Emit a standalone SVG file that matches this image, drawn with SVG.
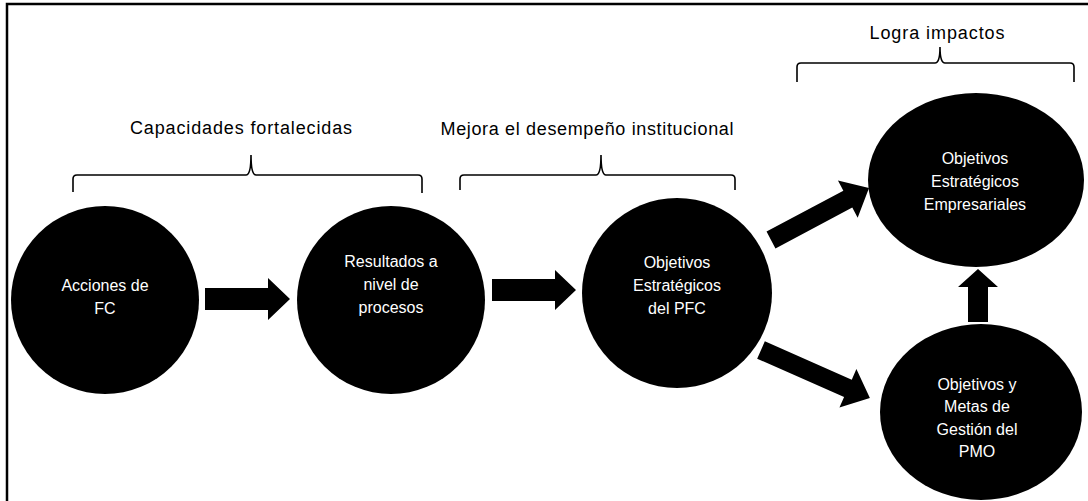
<svg xmlns="http://www.w3.org/2000/svg" width="1088" height="501" viewBox="0 0 1088 501">
<style>
.node{fill:#000;}
.nt{font-family:"Liberation Sans",Arial,sans-serif;font-size:16px;fill:#fff;text-anchor:middle;}
.ht{font-family:"Liberation Sans",Arial,sans-serif;font-size:18px;fill:#000;text-anchor:middle;}
.brace{fill:none;stroke:#000;stroke-width:1.6;}
.arrow{fill:#000;}
.frame{stroke:#000;stroke-width:2.5;fill:none;}
</style>
<rect width="1088" height="501" fill="#fff"/>
<path class="frame" d="M7,501 L7,4 L1088,4"/>

<g id="labels">
<text class="ht" x="241" y="134" textLength="222">Capacidades fortalecidas</text>
<text class="ht" x="587" y="135" textLength="293">Mejora el desempeño institucional</text>
<text class="ht" x="937" y="39" textLength="135">Logra impactos</text>
<path class="brace" d="M73,192 L73,179 Q73,175 77,175 L246,175 Q251,175 251,155 Q251,175 256,175 L418,175 Q422,175 422,179 L422,193"/>
<path class="brace" d="M460,190 L460,179 Q460,175 464,175 L596,175 Q601,175 601,155 Q601,175 606,175 L731,175 Q735,175 735,179 L735,190"/>
<path class="brace" d="M797,82 L797,67 Q797,63 801,63 L935,63 Q940,63 940,47 Q940,63 945,63 L1070,63 Q1074,63 1074,67 L1074,82"/>
</g>

<g id="connectors">
<polygon class="arrow" points="205,288 268,288 268,278 290,299 268,320 268,310 205,310"/>
<polygon class="arrow" points="492,279 555,279 555,270 576,290 555,310 555,301 492,301"/>
<polygon class="arrow" transform="translate(771,240) rotate(-28)" points="0,-9.5 87,-9.5 87,-21 111,0 87,21 87,9.5 0,9.5"/>
<polygon class="arrow" transform="translate(761,350) rotate(23.8)" points="0,-9.5 95,-9.5 95,-21 119,0 95,21 95,9.5 0,9.5"/>
<polygon class="arrow" points="968,322 968,287 958,287 978,269 998,287 988,287 988,322"/>
</g>

<g id="n1">
<circle class="node" cx="105" cy="300" r="94"/>
<text class="nt" x="105" y="291">Acciones de</text>
<text class="nt" x="105" y="314">FC</text>
</g>
<g id="n2">
<circle class="node" cx="391" cy="300" r="94"/>
<text class="nt" x="391" y="267">Resultados a</text>
<text class="nt" x="391" y="290">nivel de</text>
<text class="nt" x="391" y="313">procesos</text>
</g>
<g id="n3">
<circle class="node" cx="677" cy="293" r="95"/>
<text class="nt" x="677" y="268">Objetivos</text>
<text class="nt" x="677" y="291">Estratégicos</text>
<text class="nt" x="677" y="314">del PFC</text>
</g>
<g id="n4">
<ellipse class="node" cx="976" cy="180" rx="108" ry="87"/>
<text class="nt" x="975" y="164">Objetivos</text>
<text class="nt" x="975" y="187">Estratégicos</text>
<text class="nt" x="975" y="210">Empresariales</text>
</g>
<g id="n5">
<ellipse class="node" cx="981" cy="412" rx="101" ry="88"/>
<text class="nt" x="977" y="390">Objetivos y</text>
<text class="nt" x="977" y="412">Metas de</text>
<text class="nt" x="977" y="435">Gestión del</text>
<text class="nt" x="977" y="457">PMO</text>
</g>
</svg>
